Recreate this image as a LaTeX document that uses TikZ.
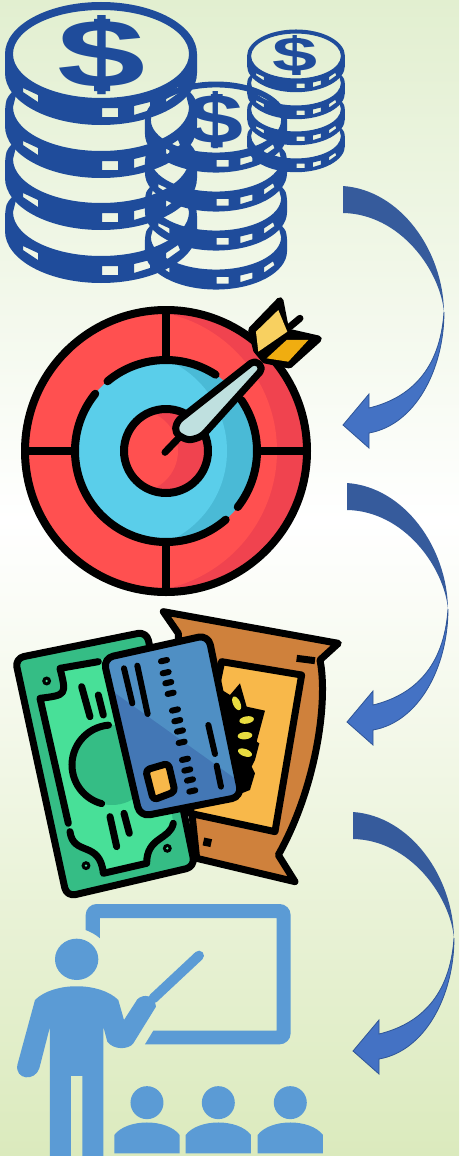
\documentclass[tikz,border=0pt]{standalone}
\usepackage{graphicx}
\usepackage{fontspec}
\setmainfont{Liberation Sans}
\usetikzlibrary{calc}
\definecolor{bgtop}{HTML}{E2EFD0}
\definecolor{bgbottom}{HTML}{DBEABD}
\definecolor{coinblue}{HTML}{1F4C9B}
\definecolor{redlight}{HTML}{FF5050}
\definecolor{reddark}{HTML}{F0434F}
\definecolor{bluelight}{HTML}{5ACEEA}
\definecolor{bluedark}{HTML}{4ABAD6}
\definecolor{dartpale}{HTML}{BFE0DF}
\definecolor{flightyellow}{HTML}{F8D060}
\definecolor{flightorange}{HTML}{F0AD10}
\definecolor{billlight}{HTML}{48E098}
\definecolor{billdark}{HTML}{35BD85}
\definecolor{baghue}{HTML}{CF813C}
\definecolor{panelhue}{HTML}{F8B84A}
\definecolor{wheathue}{HTML}{E8DC40}
\definecolor{cardlight}{HTML}{4F8FC4}
\definecolor{carddark}{HTML}{4377B5}
\definecolor{teachhue}{HTML}{5B9BD5}
\definecolor{arrowback}{HTML}{365B9C}
\definecolor{arrowfront}{HTML}{4472C4}
\definecolor{arrowline}{HTML}{2F5597}
\tikzset{
  crop/.style={x=0.3333pt,y=-0.3333pt,yshift=-#1pt},
  inkline/.style={draw=black,line width=7pt,line join=round,line cap=round},
  coinface/.pic={
    \fill[coinblue,even odd rule] (-96,0) arc[start angle=180,end angle=360,x radius=96,y radius=52]
      -- (96,19) arc[start angle=0,end angle=180,x radius=96,y radius=52] -- cycle
      (0,0) ellipse[x radius=88,y radius=44]
      (1,54) -- (17,54) -- (17,63) -- (1,63) -- cycle
      (33,52) -- (49,48) -- (49,56) -- (33,61) -- cycle
      (-78,34) -- (-63,41) -- (-63,48) -- (-78,38) -- cycle
      (65,41) -- (77,33) -- (79,38) -- (65,48) -- cycle;
    \fill[coinblue] (-7,-35) rectangle (9,-26) (-7,27) rectangle (9,37);
  },
  coinlow/.pic={
    \fill[coinblue,even odd rule] (-89,-15) .. controls (-95,-8) .. (-96,4) -- (-96,19)
      arc[start angle=180,end angle=0,x radius=96,y radius=52]
      -- (96,4) .. controls (95,-8) .. (89,-15) -- (85,-12) -- (88,0)
      arc[start angle=0,end angle=180,x radius=88,y radius=44] -- (-85,-12) -- cycle
      (1,54) -- (17,54) -- (17,63) -- (1,63) -- cycle
      (33,52) -- (49,48) -- (49,56) -- (33,61) -- cycle
      (-78,34) -- (-63,41) -- (-63,48) -- (-78,38) -- cycle
      (65,41) -- (77,33) -- (79,38) -- (65,48) -- cycle;
  },
  bendarrow/.pic={
    \fill[arrowback] (0,0) .. controls (57,4) and (100,64) .. (101,126)
      .. controls (97,84) and (57,28) .. (0,27) -- cycle;
    \filldraw[fill=arrowfront,draw=arrowline,line width=0.8pt] (101,126) .. controls (101,184) and (72,239) .. (26,247)
      -- (26,262) -- (0,239) -- (26,208) -- (26,222) .. controls (67,212) and (97,184) .. (101,126) -- cycle;
  }
}

\begin{document}
\begin{tikzpicture}[x=1pt,y=-1pt]
\useasboundingbox (0,0) rectangle (459,1156);
\shade[top color=bgtop,bottom color=white] (0,0) rectangle (459,521);
\shade[top color=white,bottom color=bgbottom] (0,520) rectangle (459,1156);

% coins
\foreach \cy in {212,159,107} \pic at (101,\cy) {coinlow};
\pic at (101,54) {coinface};
\foreach \cy in {237,198,159} \pic[scale=0.74] at (216,\cy) {coinlow};
\pic[scale=0.74] at (216,120) {coinface};
\foreach \cy in {136,109,83} \pic[scale=0.51] at (296,\cy) {coinlow};
\pic[scale=0.51] at (296,56) {coinface};
\node[inner sep=0pt,text=coinblue] (dollarbig) at (102,55) {\resizebox{88pt}{72pt}{\bfseries\$}};
\node[inner sep=0pt,text=coinblue] (dollarmid) at (216,120) {\resizebox{56pt}{52pt}{\bfseries\$}};
\node[inner sep=0pt,text=coinblue] (dollarsmall) at (295,55) {\resizebox{45pt}{36pt}{\bfseries\$}};

% target
\fill[reddark] (166,451) circle[radius=141pt];
\begin{scope}
  \clip (166,451) circle[radius=141pt];
  \fill[redlight] (136,451) circle[radius=141pt];
\end{scope}
\fill[bluedark] (166,451) circle[radius=91pt];
\begin{scope}
  \clip (166,451) circle[radius=91pt];
  \fill[bluelight] (128,451) circle[radius=99pt];
\end{scope}
\fill[reddark] (166,451) circle[radius=42pt];
\begin{scope}
  \clip (166,451) circle[radius=42pt];
  \fill[redlight] (137,451) circle[radius=41pt];
\end{scope}
\draw[inkline,line width=8pt] (166,451) circle[radius=141pt];
\draw[inkline,line width=8pt,line cap=butt] (166,310) -- (166,360) (166,542) -- (166,592) (25,451) -- (75,451) (257,451) -- (307,451);
\foreach \a/\b in {-130/-57,-34/38,49/219}
  \draw[inkline,line width=8pt] (166,451) ++(\a:91) arc[start angle=\a,end angle=\b,radius=91];
\draw[inkline,line width=8pt] (166,451) circle[radius=42pt];
\begin{scope}[crop=290]
  \draw[inkline] (495,487) -- (540,440);
  \filldraw[inkline,fill=dartpale,rounded corners=5pt] (530,395) -- (765,210) -- (790,235) -- (605,440) -- (565,452) -- (525,430) -- cycle;
  \filldraw[inkline,fill=black] (755,120) -- (840,32) -- (858,125) -- (955,147) -- (868,225) -- (795,210) -- (770,180) -- cycle;
  \draw[inkline] (870,110) -- (900,85);
  \fill[flightyellow] (768,125) -- (835,60) -- (862,125) -- (775,185) -- cycle;
  \fill[flightorange] (800,205) -- (860,150) -- (925,150) -- (865,215) -- cycle;
\end{scope}

% bag, bill and card
\begin{scope}[crop=600]
  \filldraw[inkline,fill=baghue] (490,35) -- (1015,130) -- (960,180) .. controls (985,300) and (950,560) .. (835,765)
    -- (885,845) -- (590,775) -- (540,300) -- (535,100) -- cycle;
  \draw[inkline,line cap=butt] (890,175) -- (945,182);
  \fill[black,rotate around={-12:(622,727)}] (610,715) rectangle (634,739);
  \filldraw[inkline,fill=panelhue] (665,185) -- (905,225) -- (825,695) -- (570,640) -- cycle;
  \fill[black] (650,260) -- (690,285) -- (720,250) -- (740,320) -- (795,332) -- (770,425) -- (778,430) -- (765,480) -- (755,500) -- (765,520) -- (750,570) -- (700,590) -- cycle;
  \foreach \lx/\ly/\lr in {710/310/-65,740/360/10,735/407/5,735/458/-20}
    \fill[wheathue,rotate around={\lr:(\lx,\ly)}] (\lx,\ly) ellipse[x radius=22,y radius=11];
  \filldraw[inkline,fill=billdark,rounded corners=9pt] (45,175) -- (440,95) -- (585,800) -- (200,890) -- cycle;
  \fill[billlight] (180,205) -- (440,150) -- (520,670) .. controls (510,720) and (440,710) .. (440,790)
    -- (310,820) .. controls (300,720) and (220,770) .. (210,695) -- (120,295) .. controls (200,285) .. (180,205) -- cycle;
  \draw[inkline] (295,185) -- (180,205) .. controls (200,285) .. (120,295) -- (205,670);
  \draw[inkline] (210,695) .. controls (220,770) and (300,720) .. (310,820) -- (440,790) .. controls (440,710) and (510,720) .. (520,670);
  \fill[billdark] (336,495) circle[radius=40pt];
  \draw[inkline] (336,495) ++(-95:120) arc[start angle=-95,end angle=-255,radius=120];
  \foreach \dx/\dy in {140/243,258/797,502/745} {
    \fill[black] (\dx,\dy) circle[radius=4.5pt];
    \fill[billlight] (\dx,\dy) circle[radius=1.3pt];
  }
  \draw[inkline] (245,260) -- (270,350) (295,285) -- (310,345) (330,650) -- (350,740) (372,640) -- (388,700);
  \fill[carddark,rounded corners=10pt] (310,175) -- (625,105) -- (725,590) -- (420,650) -- cycle;
  \begin{scope}
    \clip[rounded corners=10pt] (310,175) -- (625,105) -- (725,590) -- (420,650) -- cycle;
    \fill[cardlight] (310,175) -- (625,105) -- (740,560) -- (340,275) -- cycle;
  \end{scope}
  \draw[inkline,rounded corners=10pt] (310,175) -- (625,105) -- (725,590) -- (420,650) -- cycle;
  \foreach \sx/\sy in {492/182,497/218,505/248,512/280,525/330,532/362,540/393,545/427,555/478,562/510,570/540,577/573}
    \draw[inkline,line width=6pt] (\sx-9,\sy+2) -- (\sx+9,\sy-2);
  \draw[inkline,line width=6pt] (372,205) -- (397,310) (412,197) -- (443,342) (625,375) -- (645,462) (650,497) -- (663,560);
  \filldraw[inkline,fill=panelhue,rounded corners=4pt] (437,510) -- (505,490) -- (525,575) -- (460,600) -- cycle;
\end{scope}

% teacher and class
\begin{scope}[crop=890]
  \fill[teachhue] (257,120) [rounded corners=11pt] -- (257,42) -- (872,42) -- (872,463) [sharp corners] -- (435,463) -- (460,422)
    -- (830,422) -- (830,84) -- (300,84) -- (300,145) .. controls (285,132) and (270,125) .. (257,120) -- cycle;
  \fill[teachhue] (230,208) ellipse[x radius=65,y radius=62];
  \draw[teachhue,line width=10pt,line cap=round] (460,325) -- (597,197);
  \fill[teachhue] (105,330) .. controls (160,275) and (300,275) .. (355,330) -- (372,390) -- (412,328)
    .. controls (430,310) and (465,315) .. (468,350) -- (400,460) .. controls (385,480) and (340,480) .. (322,455)
    -- (310,410) -- (310,800) -- (247,800) -- (247,558) -- (213,558) -- (213,800) -- (150,800) -- (150,410)
    -- (118,535) .. controls (105,575) and (45,570) .. (52,525) -- cycle;
  \foreach \hx in {441,655,871} {
    \fill[teachhue] (\hx,638) circle[radius=16.5pt];
    \fill[teachhue] (\hx-98,790) -- (\hx-98,735) .. controls (\hx-60,685) and (\hx+60,685) .. (\hx+98,735) -- (\hx+98,790) -- cycle;
  }
\end{scope}

% curved arrows
\pic at (343,186) {bendarrow};
\pic at (347,483) {bendarrow};
\pic at (353,812) {bendarrow};
\end{tikzpicture}
\end{document}
